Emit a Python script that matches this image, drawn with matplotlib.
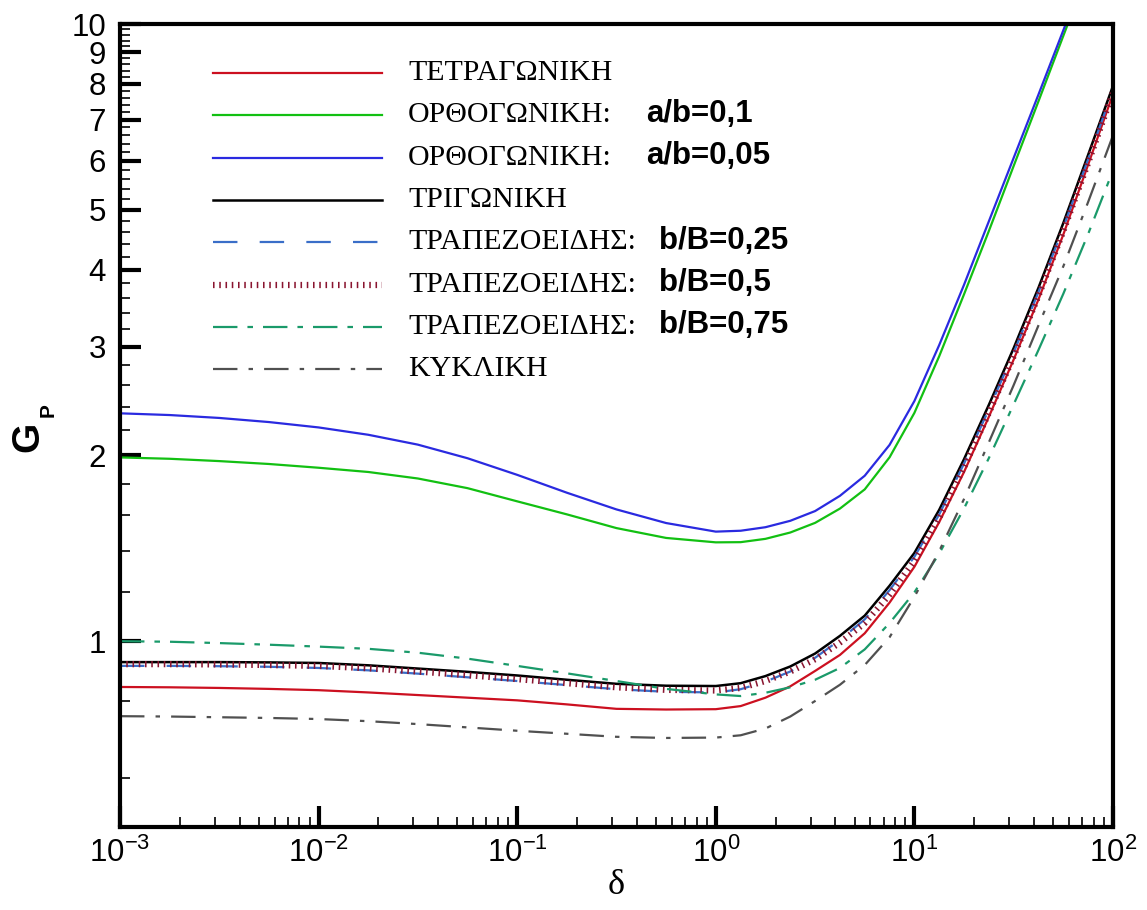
import matplotlib
matplotlib.use("Agg")
import matplotlib.pyplot as plt
from matplotlib.ticker import FixedLocator, FixedFormatter, LogLocator, NullFormatter, LogFormatterMathtext
import numpy as np

# dimensionless parameter delta
delta = [0.001, 0.00178, 0.00316, 0.00562, 0.01, 0.0178, 0.0316, 0.0562,
         0.1, 0.178, 0.316, 0.562, 1.0, 1.334, 1.778, 2.371, 3.162, 4.217,
         5.623, 7.499, 10.0, 13.34, 17.78, 23.71, 31.62, 42.17, 56.23, 74.99, 100.0]

# G_P for each cross-section
g_square = [0.843, 0.842, 0.840, 0.837, 0.833, 0.826, 0.818, 0.810,
            0.802, 0.790, 0.777, 0.775, 0.776, 0.785, 0.810, 0.845, 0.895, 0.950,
            1.03, 1.155, 1.32, 1.56, 1.88, 2.31, 2.86, 3.58, 4.56, 5.92, 7.70]
g_rect_01 = [1.985, 1.975, 1.958, 1.937, 1.910, 1.880, 1.835, 1.770,
             1.685, 1.605, 1.525, 1.470, 1.446, 1.447, 1.465, 1.500, 1.555, 1.640,
             1.762, 1.986, 2.344, 2.897, 3.648, 4.62, 5.89, 7.50, 9.57, 12.2, 15.5]
g_rect_005 = [2.340, 2.325, 2.300, 2.265, 2.220, 2.160, 2.082, 1.979,
              1.860, 1.740, 1.635, 1.554, 1.505, 1.510, 1.530, 1.567, 1.625, 1.720,
              1.854, 2.080, 2.450, 3.020, 3.780, 4.79, 6.07, 7.69, 9.77, 12.4, 15.7]
g_triangle = [0.925, 0.925, 0.925, 0.924, 0.922, 0.914, 0.903, 0.892,
              0.880, 0.866, 0.853, 0.847, 0.846, 0.855, 0.878, 0.910, 0.955, 1.020,
              1.10, 1.23, 1.39, 1.633, 1.972, 2.415, 2.985, 3.74, 4.76, 6.14, 7.94]
g_trap_025 = [0.912, 0.912, 0.911, 0.909, 0.905, 0.897, 0.886, 0.874,
              0.862, 0.849, 0.836, 0.828, 0.826, 0.836, 0.860, 0.893, 0.940, 1.005,
              1.085, 1.21, 1.37, 1.605, 1.94, 2.375, 2.935, 3.68, 4.68, 6.04, 7.82]
g_trap_05 = [0.918, 0.918, 0.917, 0.915, 0.912, 0.904, 0.893, 0.881,
             0.868, 0.855, 0.842, 0.834, 0.832, 0.840, 0.862, 0.893, 0.935, 0.995,
             1.07, 1.19, 1.35, 1.585, 1.915, 2.345, 2.895, 3.63, 4.62, 5.96, 7.75]
g_trap_075 = [1.000, 0.998, 0.993, 0.987, 0.980, 0.972, 0.958, 0.937,
              0.912, 0.887, 0.862, 0.837, 0.820, 0.815, 0.825, 0.842, 0.866, 0.905,
              0.97, 1.07, 1.20, 1.387, 1.641, 1.98, 2.42, 2.965, 3.656, 4.57, 5.79]
g_circle = [0.756, 0.755, 0.753, 0.751, 0.748, 0.742, 0.734, 0.725,
            0.716, 0.708, 0.700, 0.697, 0.698, 0.704, 0.722, 0.755, 0.800, 0.850,
            0.915, 1.015, 1.18, 1.40, 1.70, 2.10, 2.60, 3.25, 4.05, 5.15, 6.60]

labels = ["ΤΕΤΡΑΓΩΝΙΚΗ", "ΟΡΘΟΓΩΝΙΚΗ:", "ΟΡΘΟΓΩΝΙΚΗ:", "ΤΡΙΓΩΝΙΚΗ",
          "ΤΡΑΠΕΖΟΕΙΔΗΣ:", "ΤΡΑΠΕΖΟΕΙΔΗΣ:", "ΤΡΑΠΕΖΟΕΙΔΗΣ:", "ΚΥΚΛΙΚΗ"]
params = ["", "a/b=0,1", "a/b=0,05", "", "b/B=0,25", "b/B=0,5", "b/B=0,75", ""]

series = [g_square, g_rect_01, g_rect_005, g_triangle,
          g_trap_025, g_trap_05, g_trap_075, g_circle]
styles = [
    dict(color="#cc1020", lw=1.6, ls="-"),
    dict(color="#12c012", lw=1.6, ls="-"),
    dict(color="#2a2ae0", lw=1.6, ls="-"),
    dict(color="black", lw=1.8, ls="-"),
    dict(color="#3a6ec8", lw=1.6, ls=(0, (11, 10))),
    dict(color="#8a1530", lw=4.5, ls=(0, (0.25, 0.75)), dash_capstyle="butt"),
    dict(color="#1a9a6a", lw=1.6, ls=(0, (11, 4.5, 2.5, 4.5))),
    dict(color="#505050", lw=1.6, ls=(0, (11, 5, 2, 5))),
]

plt.rcParams["font.family"] = ["Liberation Sans", "DejaVu Sans"]
plt.rcParams["mathtext.fontset"] = "custom"
plt.rcParams["mathtext.rm"] = "Liberation Sans"
plt.rcParams["mathtext.bf"] = "Liberation Sans:bold"

fig = plt.figure(figsize=(11.47, 9.10), dpi=100)
ax = fig.add_axes([120 / 1147, 83 / 910, 993 / 1147, 803 / 910])

for ys, st in zip(series, styles):
    ax.plot(delta, ys, **st)

ax.set_xscale("log")
ax.set_yscale("log")
ax.set_xlim(1e-3, 1e2)
ax.set_ylim(0.5, 10)

# y ticks: integers labelled, minor every 0.2
ymaj = list(range(1, 11))
ymin = [v for v in np.round(np.arange(0.6, 10.0, 0.2), 1) if abs(v - round(v)) > 1e-6]
ax.yaxis.set_major_locator(FixedLocator(ymaj))
ax.yaxis.set_major_formatter(FixedFormatter([str(v) for v in ymaj]))
ax.yaxis.set_minor_locator(FixedLocator(ymin))
ax.yaxis.set_minor_formatter(NullFormatter())

ax.xaxis.set_major_locator(LogLocator(base=10, numticks=10))
ax.xaxis.set_major_formatter(LogFormatterMathtext())
ax.xaxis.set_minor_locator(LogLocator(base=10, subs=range(2, 10), numticks=50))
ax.xaxis.set_minor_formatter(NullFormatter())

ax.tick_params(which="both", direction="in", top=False, right=False, labelsize=22.5)
ax.tick_params(which="major", length=15, width=3)
ax.tick_params(which="minor", length=7, width=1.2)
ax.tick_params(axis="x", pad=8)
ax.tick_params(axis="y", pad=10)
for sp in ax.spines.values():
    sp.set_linewidth(3)

ax.set_xlabel("δ", family="Liberation Serif", fontsize=26, labelpad=0)

# axis title G_P, written as two pieces so the subscript sits apart
fig.text(28 / 1147, 1 - 437 / 910, "G", rotation=90, fontsize=28, fontweight="bold",
         ha="center", va="center")
fig.text(48 / 1147, 1 - 410 / 910, "P", rotation=90, fontsize=15, fontweight="bold",
         ha="center", va="center")

# legend block drawn by hand: serif names, bold sans ratios
for i, (lab, par, st) in enumerate(zip(labels, params, styles)):
    y = 0.939 - i * 0.0527
    ax.plot([0.094, 0.264], [y, y], transform=ax.transAxes, **st)
    ax.text(0.290, y, lab, transform=ax.transAxes, family="Liberation Serif",
            fontsize=21.5, va="center")
    if par:
        xpar = 0.530 if par.startswith("a") else 0.543
        ax.text(xpar, y + 0.002, par, transform=ax.transAxes, fontsize=22.5,
                fontweight="bold", va="center")

fig.savefig("out.png", dpi=100, facecolor="white")
